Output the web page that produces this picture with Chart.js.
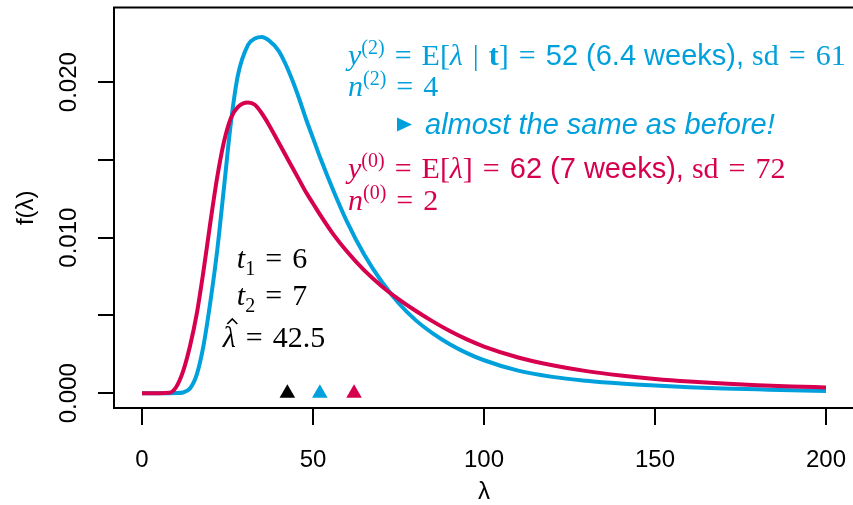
<!DOCTYPE html>
<html lang="en">
<head>
    <meta charset="UTF-8">
    <title>f(λ) prior / posterior</title>
    <script src="https://cdn.jsdelivr.net/npm/chart.js@4.4.1/dist/chart.umd.min.js"></script>
    <style>
        html, body { margin: 0; padding: 0; background: #fff; }
        #wrap { width: 853px; height: 505px; }
    </style>
</head>
<body>
    <div id="wrap"><canvas id="densityChart"></canvas></div>

    <script>
        // values
        const lambdaGrid = [0, 5, 8, 10, 12, 14, 16, 18, 20, 22, 24, 26, 28, 31, 33, 35, 37, 40, 42, 44, 46, 48, 50, 52,
                            56, 60, 65, 70, 75, 80, 85, 90, 95, 100, 110, 120, 130, 140, 150, 160, 170, 180, 190, 200];
        // prior, n(0) = 2, y(0) = 62
        const priorDensity = [0, 0, 0.00003, 0.0004, 0.0014, 0.0030, 0.0051, 0.0079, 0.0110, 0.0139, 0.0162, 0.0177, 0.0184,
                              0.0187, 0.01855, 0.0180, 0.0173, 0.0161, 0.0153, 0.0145, 0.0137, 0.0129, 0.0122, 0.0115,
                              0.0102, 0.0091, 0.0079, 0.0069, 0.00605, 0.0053, 0.00462, 0.0040, 0.00346, 0.0030, 0.0023,
                              0.0018, 0.00142, 0.00114, 0.00092, 0.00075, 0.00062, 0.00052, 0.00044, 0.00037];
        // posterior, n(2) = 4, y(2) = 52
        const postDensity = [0, 0, 0, 0.00001, 0.00005, 0.0003, 0.0012, 0.0031, 0.0059, 0.0092, 0.0133, 0.0174, 0.0204,
                             0.0224, 0.0228, 0.0229, 0.0227, 0.0220, 0.02115, 0.0201, 0.0189, 0.0176, 0.0164, 0.0152,
                             0.0130, 0.0110, 0.0089, 0.0072, 0.0058, 0.0047, 0.00385, 0.00315, 0.00258, 0.00212, 0.00145,
                             0.00105, 0.00080, 0.00062, 0.00049, 0.00039, 0.00031, 0.00025, 0.00019, 0.00015];
        // lambda hat, posterior mean, prior mean
        const markerLambda = [42.5, 52, 62];
        const xTicks = [0, 50, 100, 150, 200];
        const xTickLabels = ['0', '50', '100', '150', '200'];
        const yTicks = [0, 0.005, 0.010, 0.015, 0.020];
        const yTickLabels = ['0.000', '', '0.010', '', '0.020'];

        const BLUE = '#00a0dc';
        const RED = '#d6004f';
        const SANS = '"Liberation Sans", Arial, sans-serif';
        const SERIF = '"Liberation Serif", "Times New Roman", serif';

        function toPoints(xs, ys) {
            return xs.map((x, i) => ({ x: x, y: ys[i] }));
        }

        // a row of text pieces in mixed fonts, drawn one after the other
        // gap = extra space before a piece (math spacing round "=")
        function drawRuns(ctx, runs, color, x, y, align) {
            ctx.fillStyle = color;
            ctx.strokeStyle = color;
            let total = 0;
            runs.forEach(r => {
                ctx.font = r.font || RM;
                total += (r.gap || 0) + (r.hat ? 0 : ctx.measureText(r.t).width);
            });
            let cx = align === 'center' ? x - total / 2 : x;
            let prevW = 0;
            runs.forEach(r => {
                ctx.font = r.font || RM;
                cx += r.gap || 0;
                if (r.hat) {
                    // circumflex over the previous glyph
                    const hx = cx - prevW / 2 + 3;
                    ctx.lineWidth = 1.6;
                    ctx.beginPath();
                    ctx.moveTo(hx - 5, y - 23);
                    ctx.lineTo(hx, y - 28);
                    ctx.lineTo(hx + 5, y - 23);
                    ctx.stroke();
                    return;
                }
                const w = ctx.measureText(r.t).width;
                ctx.fillText(r.t, cx, y + (r.dy || 0));
                cx += w;
                prevW = w;
            });
        }

        const IT = 'italic 30px ' + SERIF;
        const RM = '30px ' + SERIF;
        const BD = 'bold 30px ' + SERIF;
        const SUP = '20px ' + SERIF;
        const SF = '29px ' + SANS;
        const SP = 10;

        function annotationRows() {
            return [
                { color: BLUE, x: 348, y: 65, runs: [
                    { t: 'y', font: IT }, { t: '(2)', font: SUP, dy: -11 },
                    { t: '=', gap: SP }, { t: 'E[', gap: SP }, { t: 'λ', font: IT },
                    { t: '|', gap: SP }, { t: 't', font: BD, gap: SP }, { t: ']' },
                    { t: '=', gap: SP }, { t: '52 (6.4 weeks), ', font: SF, gap: SP },
                    { t: 'sd' }, { t: '=', gap: SP }, { t: '61', gap: SP }] },
                { color: BLUE, x: 348, y: 96, runs: [
                    { t: 'n', font: IT }, { t: '(2)', font: SUP, dy: -11 },
                    { t: '=', gap: SP }, { t: '4', gap: SP }] },
                { color: BLUE, x: 425, y: 134, runs: [
                    { t: 'almost the same as before!', font: 'italic ' + SF }] },
                { color: RED, x: 348, y: 178, runs: [
                    { t: 'y', font: IT }, { t: '(0)', font: SUP, dy: -11 },
                    { t: '=', gap: SP }, { t: 'E[', gap: SP }, { t: 'λ', font: IT },
                    { t: ']' }, { t: '=', gap: SP }, { t: '62 (7 weeks), ', font: SF, gap: SP },
                    { t: 'sd' }, { t: '=', gap: SP }, { t: '72', gap: SP }] },
                { color: RED, x: 348, y: 210, runs: [
                    { t: 'n', font: IT }, { t: '(0)', font: SUP, dy: -11 },
                    { t: '=', gap: SP }, { t: '2', gap: SP }] },
                { color: '#000', x: 272, y: 268, center: true, runs: [
                    { t: 't', font: IT }, { t: '1', font: SUP, dy: 7 },
                    { t: '=', gap: SP }, { t: '6', gap: SP }] },
                { color: '#000', x: 272, y: 305, center: true, runs: [
                    { t: 't', font: IT }, { t: '2', font: SUP, dy: 7 },
                    { t: '=', gap: SP }, { t: '7', gap: SP }] },
                { color: '#000', x: 274, y: 347, center: true, runs: [
                    { t: 'λ', font: IT }, { hat: true },
                    { t: '=', gap: SP }, { t: '42.5', gap: SP }] }
            ];
        }

        // box, axis labels and the text annotations
        const decorPlugin = {
            id: 'decor',
            afterDraw(chart) {
                const ctx = chart.ctx;
                const a = chart.chartArea;
                const xs = chart.scales.x, ys = chart.scales.y;
                ctx.save();
                ctx.strokeStyle = '#000';
                ctx.lineWidth = 2;
                ctx.strokeRect(a.left - 1, a.top, a.right - a.left + 10, a.bottom - a.top);

                ctx.fillStyle = '#000';
                ctx.font = '24px ' + SANS;
                ctx.textAlign = 'center';
                ctx.textBaseline = 'middle';
                xTicks.forEach((v, i) => ctx.fillText(xTickLabels[i], xs.getPixelForValue(v), 460));
                ctx.fillText('λ', (a.left + a.right) / 2, 492);
                yTicks.forEach((v, i) => {
                    if (!yTickLabels[i]) return;
                    ctx.save();
                    ctx.translate(69, ys.getPixelForValue(v));
                    ctx.rotate(-Math.PI / 2);
                    ctx.fillText(yTickLabels[i], 0, 0);
                    ctx.restore();
                });
                ctx.save();
                ctx.translate(26, (a.top + a.bottom) / 2);
                ctx.rotate(-Math.PI / 2);
                ctx.fillText('f(λ)', 0, 0);
                ctx.restore();

                // small arrow head before "almost the same as before!"
                ctx.fillStyle = BLUE;
                ctx.beginPath();
                ctx.moveTo(397, 117.5);
                ctx.lineTo(412, 124.5);
                ctx.lineTo(397, 131.5);
                ctx.closePath();
                ctx.fill();

                ctx.textAlign = 'left';
                ctx.textBaseline = 'alphabetic';
                annotationRows().forEach(row => drawRuns(ctx, row.runs, row.color, row.x, row.y, row.center ? 'center' : 'left'));
                ctx.restore();
            }
        };

        const ctx = document.getElementById('densityChart').getContext('2d');
        const densityChart = new Chart(ctx, {
            type: 'line',
            data: {
                datasets: [
                    {
                        type: 'scatter',
                        label: 'markers',
                        data: markerLambda.map(v => ({ x: v, y: 0 })),
                        pointStyle: 'triangle',
                        pointRadius: 9,
                        pointBorderWidth: 0,
                        pointBackgroundColor: ['#000', BLUE, RED],
                        pointBorderColor: ['#000', BLUE, RED]
                    },
                    {
                        label: 'prior',
                        data: toPoints(lambdaGrid, priorDensity),
                        borderColor: RED,
                        borderWidth: 4,
                        pointRadius: 0,
                        fill: false,
                        cubicInterpolationMode: 'monotone'
                    },
                    {
                        label: 'posterior',
                        data: toPoints(lambdaGrid, postDensity),
                        borderColor: BLUE,
                        borderWidth: 4,
                        pointRadius: 0,
                        fill: false,
                        cubicInterpolationMode: 'monotone'
                    }
                ]
            },
            options: {
                responsive: true,
                maintainAspectRatio: false,
                animation: false,
                layout: { autoPadding: false, padding: { top: 7.5, left: 0, right: 0, bottom: 0 } },
                plugins: {
                    legend: { display: false },
                    tooltip: { enabled: false }
                },
                scales: {
                    x: {
                        type: 'linear',
                        min: -7.9,
                        max: 207.9,
                        afterBuildTicks: s => { s.ticks = xTicks.map(v => ({ value: v })); },
                        afterFit: s => { s.height = 97; },
                        ticks: { display: false },
                        border: { display: false },
                        grid: { drawOnChartArea: false, drawTicks: true, tickLength: 17, color: '#000', lineWidth: 2 }
                    },
                    y: {
                        type: 'linear',
                        min: -0.00095,
                        max: 0.0248,
                        afterBuildTicks: s => { s.ticks = yTicks.map(v => ({ value: v })); },
                        afterFit: s => { s.width = 115; },
                        ticks: { display: false },
                        border: { display: false },
                        grid: { drawOnChartArea: false, drawTicks: true, tickLength: 17, color: '#000', lineWidth: 2 }
                    }
                }
            },
            plugins: [decorPlugin]
        });
    </script>
</body>
</html>
